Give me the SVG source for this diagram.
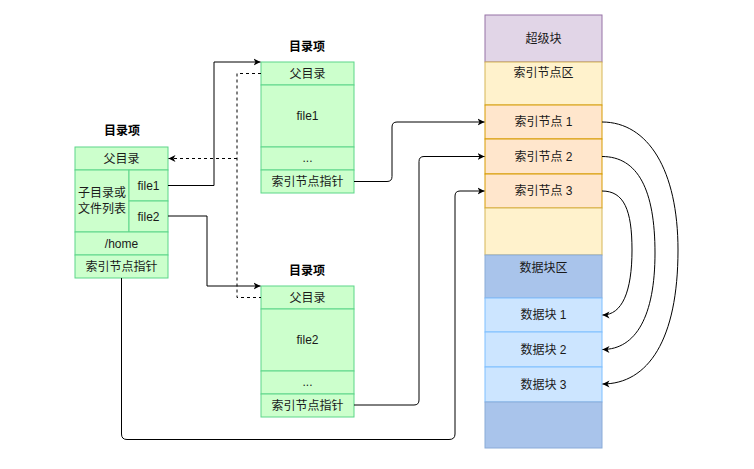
<svg xmlns="http://www.w3.org/2000/svg" width="754" height="469" viewBox="0 0 754 469">
<defs>
<marker id="arr" markerWidth="8" markerHeight="8" refX="7" refY="4" orient="auto" markerUnits="userSpaceOnUse"><path d="M0,0.5 L7,4 L0,7.5 L2,4 z" fill="#000"/></marker>
<style>
text{font-family:"Liberation Sans","Noto Sans CJK SC",sans-serif;font-size:12px;fill:#1a1a1a;text-anchor:middle;dominant-baseline:central}
.t{font-weight:bold;font-size:12px;fill:#000}
.g{fill:#ccffcc;stroke:#5cd689;stroke-width:1}
.sb{fill:#e1d5e7;stroke:#9673a6}
.ia{fill:#fff2cc;stroke:#d6b656}
.in{fill:#ffe6cc;stroke:#d79b00}
.da{fill:#a9c4eb;stroke:#8aabd8}
.dn{fill:#cce5ff;stroke:#7fbfff}
.c{fill:none;stroke:#000;stroke-width:1}
.d{fill:none;stroke:#000;stroke-width:1;stroke-dasharray:3,3}
</style>
</defs>
<rect width="754" height="469" fill="#fff"/>

<g id="dir-root">
<text class="t" x="122" y="131">目录项</text>
<rect class="g" x="75" y="147" width="93" height="23"/>
<text x="121.5" y="158.5">父目录</text>
<rect class="g" x="75" y="170" width="54" height="62"/>
<text x="102" y="193">子目录或</text>
<text x="102" y="209">文件列表</text>
<rect class="g" x="129" y="170" width="39" height="31"/>
<text x="148.5" y="185.5">file1</text>
<rect class="g" x="129" y="201" width="39" height="31"/>
<text x="148.5" y="216.5">file2</text>
<rect class="g" x="75" y="232" width="93" height="23"/>
<text x="121.5" y="243.5">/home</text>
<rect class="g" x="75" y="255" width="93" height="23"/>
<text x="121.5" y="266.5">索引节点指针</text>
</g>

<g id="dir-file1">
<text class="t" x="307" y="47">目录项</text>
<rect class="g" x="261" y="62" width="93" height="23"/>
<text x="307.5" y="73.5">父目录</text>
<rect class="g" x="261" y="85" width="93" height="62"/>
<text x="307.5" y="116">file1</text>
<rect class="g" x="261" y="147" width="93" height="23"/>
<text x="307.5" y="158">...</text>
<rect class="g" x="261" y="170" width="93" height="23"/>
<text x="307.5" y="181.5">索引节点指针</text>
</g>

<g id="dir-file2">
<text class="t" x="307" y="271">目录项</text>
<rect class="g" x="261" y="286" width="93" height="23"/>
<text x="307.5" y="297.5">父目录</text>
<rect class="g" x="261" y="309" width="93" height="62"/>
<text x="307.5" y="340">file2</text>
<rect class="g" x="261" y="371" width="93" height="23"/>
<text x="307.5" y="382">...</text>
<rect class="g" x="261" y="394" width="93" height="23"/>
<text x="307.5" y="405.5">索引节点指针</text>
</g>

<g id="disk">
<rect class="sb" x="485" y="15" width="117" height="47"/>
<text x="543.5" y="38.5">超级块</text>
<rect class="ia" x="485" y="62" width="117" height="43"/>
<text x="543.5" y="73">索引节点区</text>
<rect class="in" x="485" y="105" width="117" height="34"/>
<text x="543.5" y="122">索引节点 1</text>
<rect class="in" x="485" y="139" width="117" height="35"/>
<text x="543.5" y="156.5">索引节点 2</text>
<rect class="in" x="485" y="174" width="117" height="34"/>
<text x="543.5" y="191">索引节点 3</text>
<rect class="ia" x="485" y="208" width="117" height="47"/>
<rect class="da" x="485" y="255" width="117" height="43"/>
<text x="543.5" y="268">数据块区</text>
<rect class="dn" x="485" y="298" width="117" height="34"/>
<text x="543.5" y="315">数据块 1</text>
<rect class="dn" x="485" y="332" width="117" height="35"/>
<text x="543.5" y="349.5">数据块 2</text>
<rect class="dn" x="485" y="367" width="117" height="35"/>
<text x="543.5" y="384.5">数据块 3</text>
<rect class="da" x="485" y="402" width="117" height="46"/>
</g>

<g id="connectors">
<path class="c" d="M168,185.5 H214 V62 H260.5" marker-end="url(#arr)"/>
<path class="c" d="M168,216 H207 V286 H260.5" marker-end="url(#arr)"/>
<path class="d" d="M261,73.5 H237 V297.5 H261"/>
<path class="d" d="M237,158.5 H168.5" marker-end="url(#arr)"/>
<path class="c" d="M354,181.5 H387 Q392,181.5 392,176.5 V127 Q392,122 397,122 H484.5" marker-end="url(#arr)"/>
<path class="c" d="M354,405 H414 Q419,405 419,400 V161.5 Q419,156.5 424,156.5 H484.5" marker-end="url(#arr)"/>
<path class="c" d="M121.5,278 V434 Q121.5,439.5 127,439.5 H449 Q455,439.5 455,434 V196 Q455,191 460,191 H484.5" marker-end="url(#arr)"/>
<path class="c" d="M602,122 C648,122 678,170 678,250 C678,340 648,384 602.5,384" marker-end="url(#arr)"/>
<path class="c" d="M602,156.5 C638,156.5 655,190 655,253 C655,316 636,349.5 602.5,349.5" marker-end="url(#arr)"/>
<path class="c" d="M602,191 C624,191 632,210 632,250 C632,292 622,315 602.5,315" marker-end="url(#arr)"/>
</g>
</svg>
